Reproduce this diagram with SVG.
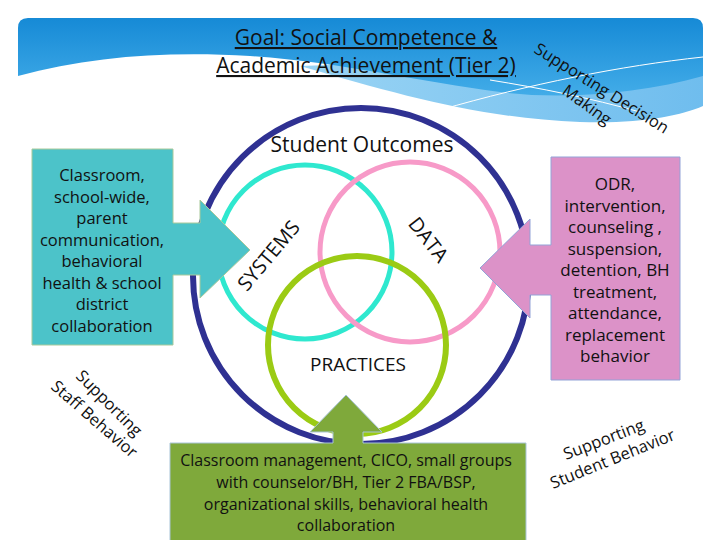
<svg xmlns="http://www.w3.org/2000/svg" width="720" height="540" viewBox="0 0 720 540">
<defs>
<linearGradient id="hdr" x1="0" y1="0" x2="0" y2="1">
<stop offset="0" stop-color="#168AD6"/>
<stop offset="1" stop-color="#42ACE8"/>
</linearGradient>
<linearGradient id="lite" x1="0" y1="0" x2="1" y2="0">
<stop offset="0" stop-color="#9AD4F4"/>
<stop offset="1" stop-color="#6FBDEE"/>
</linearGradient>
<style>
.t{font-family:"Open Sans","Liberation Sans",sans-serif;fill:#111;}
.box{text-anchor:middle;}
.ring{fill:none;}
.cap{font-size:16.5px;}
</style>
</defs>
<rect width="720" height="540" fill="#fff"/>
<g id="header">
<path d="M300,66 C400,95 480,118 580,122 C640,124 680,116 703,106 V60 L480,60 Z" fill="url(#lite)"/>
<path d="M18,28 Q18,18 28,18 H693 Q703,18 703,28 V76 C640,94 560,100 500,92 C420,82 340,62 250,56 C170,51 90,56 18,76 Z" fill="url(#hdr)"/>
<path d="M440,110 C530,84 620,66 703,57" fill="none" stroke="#fff" stroke-width="1"/>
<path d="M490,80 C540,88 590,98 640,112" fill="none" stroke="#fff" stroke-width="1"/>
<text class="t" x="366" y="45" font-size="21" text-anchor="middle" text-decoration="underline">Goal: Social Competence &amp;</text>
<text class="t" x="366" y="73" font-size="21" text-anchor="middle" text-decoration="underline">Academic Achievement (Tier 2)</text>
</g>
<g id="circles">
<circle class="ring" cx="361" cy="276" r="168" stroke="#2F3192" stroke-width="6"/>
<circle class="ring" cx="305" cy="252" r="87" stroke="#2FE8CF" stroke-width="5"/>
<circle class="ring" cx="410" cy="252" r="90" stroke="#F79AC8" stroke-width="5"/>
<circle class="ring" cx="357" cy="345" r="89" stroke="#9BCB14" stroke-width="6"/>
</g>
<g id="labels">
<text class="t" x="362" y="152" font-size="21" text-anchor="middle">Student Outcomes</text>
<text class="t" x="358" y="371" font-size="19" text-anchor="middle">PRACTICES</text>
<text class="t" font-size="20" text-anchor="middle" transform="translate(274,260) rotate(-50)">SYSTEMS</text>
<text class="t" font-size="20" text-anchor="middle" transform="translate(423,244) rotate(52)">DATA</text>
</g>
<g id="connectors">
<g id="systems-arrow">
<path d="M32,149 H173 V223 H200 V200 L250,250 L200,298 V275 H173 V345 H32 Z" fill="#4CC3C9" stroke="#A9C99A" stroke-width="1"/>
<text class="t box" font-size="16.5"><tspan x="102" y="181">Classroom,</tspan><tspan x="102" y="202.5">school-wide,</tspan><tspan x="102" y="224">parent</tspan><tspan x="102" y="245.5">communication,</tspan><tspan x="102" y="267">behavioral</tspan><tspan x="102" y="288.5">health &amp; school</tspan><tspan x="102" y="310">district</tspan><tspan x="102" y="331.5">collaboration</tspan></text>
</g>
<g id="data-arrow">
<path d="M551,157 H680 V380 H551 V295 H530 V318 L480,268 L530,219 V245 H551 Z" fill="#DC92C8" stroke="#93A3D8" stroke-width="1"/>
<text class="t box" font-size="17"><tspan x="615" y="190">ODR,</tspan><tspan x="615" y="211.5">intervention,</tspan><tspan x="615" y="233">counseling ,</tspan><tspan x="615" y="254.5">suspension,</tspan><tspan x="615" y="276">detention, BH</tspan><tspan x="615" y="297.5">treatment,</tspan><tspan x="615" y="319">attendance,</tspan><tspan x="615" y="340.5">replacement</tspan><tspan x="615" y="362">behavior</tspan></text>
</g>
<g id="practices-arrow">
<path d="M170,443 H333 V432 H310 L346,395 L382,432 H363 V443 H526 V545 H170 Z" fill="#7FA93B" stroke="#A9C4D8" stroke-width="1"/>
<text class="t box" font-size="16"><tspan x="346" y="466">Classroom management, CICO, small groups</tspan><tspan x="346" y="488">with counselor/BH, Tier 2 FBA/BSP,</tspan><tspan x="346" y="509.5">organizational skills, behavioral health</tspan><tspan x="346" y="531">collaboration</tspan></text>
</g>
</g>
<g id="side-captions">
<text class="t cap" transform="translate(533,52) rotate(32)">Supporting Decision</text>
<text class="t cap" transform="translate(561,93) rotate(36)">Making</text>
<text class="t cap" transform="translate(75,377) rotate(45)">Supporting</text>
<text class="t cap" transform="translate(50,388) rotate(41)">Staff Behavior</text>
<text class="t cap" transform="translate(566,460) rotate(-21)">Supporting</text>
<text class="t cap" transform="translate(553,489) rotate(-22)">Student Behavior</text>
</g>
</svg>
